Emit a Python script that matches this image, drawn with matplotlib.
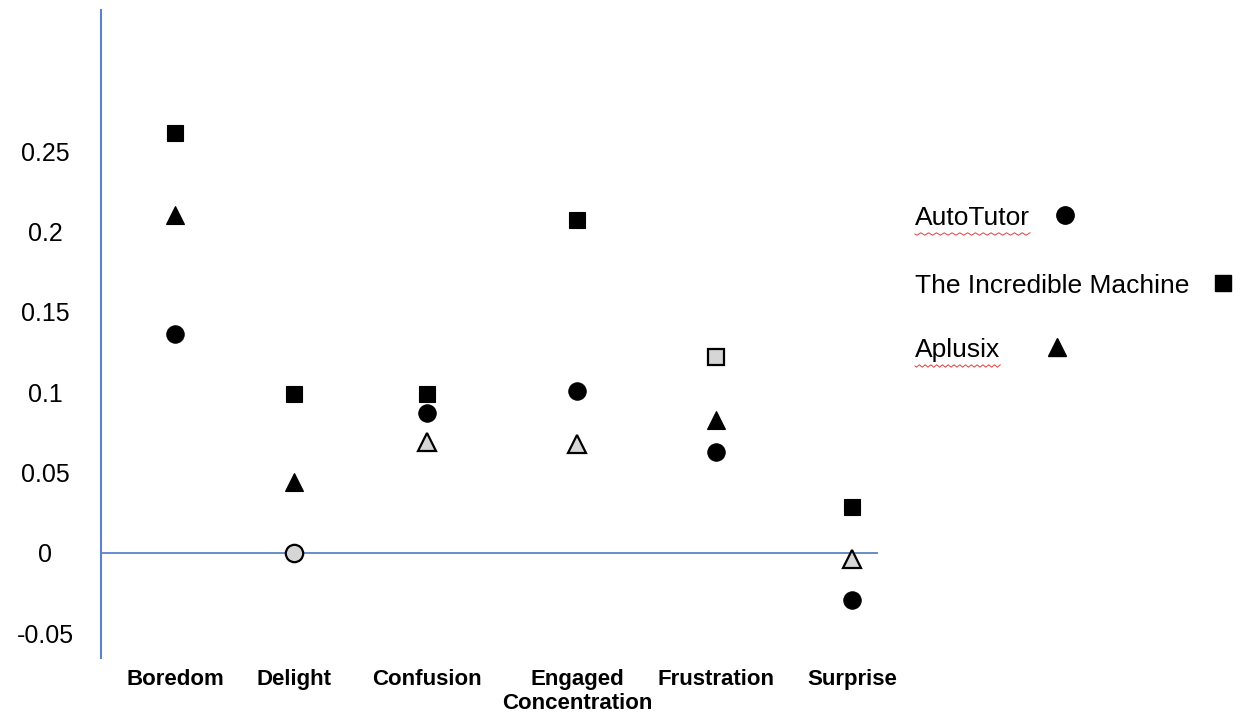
import matplotlib
matplotlib.use('Agg')
import matplotlib.pyplot as plt
import numpy as np

plt.rcParams['font.family'] = ['Liberation Sans', 'DejaVu Sans']

categories = ['Boredom', 'Delight', 'Confusion', 'Engaged\nConcentration', 'Frustration', 'Surprise']
cat_pos = [74, 193, 326, 476, 615, 751]  # horizontal placement of each category (axes units)

autotutor = [0.136, 0.0, 0.087, 0.101, 0.063, -0.029]
tim = [0.2615, 0.099, 0.099, 0.207, 0.122, 0.0286]
aplusix = [0.2105, 0.044, 0.069, 0.068, 0.083, -0.004]

# grey fill marks the non-significant points
autotutor_sig = [True, False, True, True, True, True]
tim_sig = [True, True, True, True, False, True]
aplusix_sig = [True, True, False, False, True, False]

yticks = [-0.05, 0, 0.05, 0.1, 0.15, 0.2, 0.25]
ytick_labels = ['-0.05', '0', '0.05', '0.1', '0.15', '0.2', '0.25']

AXIS_BLUE = '#5b83c9'
GREY = '#d6d6d6'

fig = plt.figure(figsize=(12.47, 7.21), dpi=100)
ax = fig.add_axes([101 / 1247, 63 / 721, 777 / 1247, 648 / 721])

series = [
    (autotutor, autotutor_sig, 'o', 12.5),
    (tim, tim_sig, 's', 11.5),
    (aplusix, aplusix_sig, '^', 12.5),
]
for vals, sig, marker, ms in series:
    for x, v, s in zip(cat_pos, vals, sig):
        ax.plot(x, v, marker=marker, ms=ms, ls='none',
                mfc='black' if s else GREY, mec='black',
                mew=0.8 if s else 1.6, clip_on=False, zorder=3)

ax.axhline(0, color=AXIS_BLUE, lw=1.3, zorder=1)
ax.set_xlim(0, 777)
ax.set_ylim(-0.0654, 0.338)

for side in ['top', 'right', 'bottom']:
    ax.spines[side].set_visible(False)
ax.spines['left'].set_color(AXIS_BLUE)
ax.spines['left'].set_linewidth(1.5)

ax.set_yticks(yticks)
ax.set_yticklabels(ytick_labels, fontsize=18)
for lab in ax.get_yticklabels():
    lab.set_horizontalalignment('center')
ax.tick_params(axis='y', length=0, pad=40)
ax.set_xticks(cat_pos)
ax.set_xticklabels(categories, fontsize=16, fontweight='bold', linespacing=1.2)
ax.tick_params(axis='x', length=0, pad=8)

# legend drawn by hand on the right side
leg = fig.add_axes([0, 0, 1, 1])
leg.set_xlim(0, 1247)
leg.set_ylim(721, 0)
leg.axis('off')
legend_items = [('AutoTutor', 'o', 1065, 215, True),
                ('The Incredible Machine', 's', 1223, 283, False),
                ('Aplusix', '^', 1057, 347, True)]
for label, marker, mx, my, squiggle in legend_items:
    t = leg.text(915, my + 3, label, fontsize=19, va='center', ha='left')
    leg.plot(mx, my, marker=marker, ms=12.5 if marker != 's' else 11.5,
             color='black', ls='none')
    if squiggle:
        fig.canvas.draw()
        bb = t.get_window_extent()
        xs = np.linspace(bb.x0, bb.x1, 60)
        ys = my + 19 + 1.2 * np.sin(np.arange(60) * np.pi / 2)
        leg.plot(xs, ys, color='#e04040', lw=0.7)

fig.savefig('out.png', dpi=100)
